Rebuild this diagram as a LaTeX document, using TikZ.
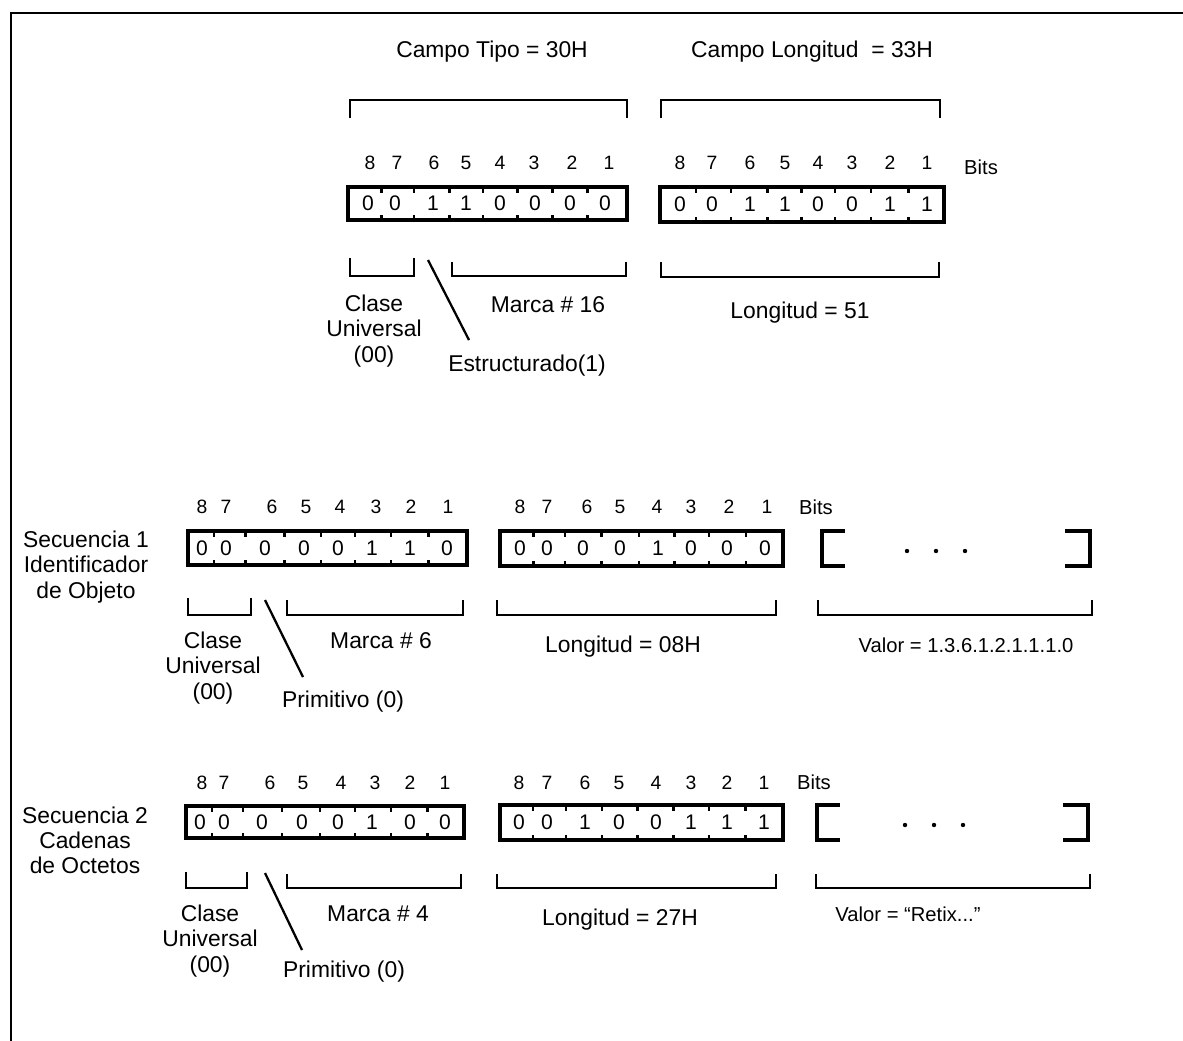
\documentclass[tikz,border=0pt]{standalone}
\usepackage{fontspec}
\setmainfont{Liberation Sans}
\begin{document}
\begin{tikzpicture}[x=0.02cm,y=-0.02cm]
\tikzset{
  lab/.style={font=\fontsize{13}{14.3}\selectfont, inner sep=0pt, align=center},
  small/.style={font=\fontsize{11.5}{13}\selectfont, inner sep=0pt},
  bitn/.style={font=\fontsize{11}{13}\selectfont, inner sep=0pt},
  dig/.style={font=\fontsize{12}{14}\selectfont, inner sep=0pt},
  obox/.style={draw, line width=2.3pt, inner sep=0pt, outer sep=0pt},
  tick/.style={line width=1.3pt},
  brk/.style={line width=1.4pt, line cap=butt},
  vbrk/.style={line width=2.2pt},
  slash/.style={line width=1.3pt},
  frame/.style={line width=1.2pt}
}
\newcommand\octetbox[6]{%
  \pgfmathsetmacro\obcx{(#2+#3)/2}%
  \pgfmathsetmacro\obcy{(#4+#5)/2}%
  \pgfmathsetmacro\obw{(#3-#2)*0.02}%
  \pgfmathsetmacro\obh{(#5-#4)*0.02}%
  \node[obox, minimum width=\obw cm, minimum height=\obh cm] (#1) at (\obcx,\obcy) {};
  \foreach \x/\d [count=\i, remember=\x as \lastx (initially 0)] in {#6} {
    \node[dig] (#1-\i) at (\x,\obcy) {\d};
    \ifnum\i>1
      \pgfmathsetmacro\tk{(\x+\lastx)/2}
      \draw[tick] (\tk,#4+1) -- ++(0,4.5);
      \draw[tick] (\tk,#5-1) -- ++(0,-4.5);
    \fi
  }
}
\newcommand\bitnums[3]{% name, y, list of x
  \foreach \x [count=\i] in {#3} {
    \pgfmathtruncatemacro\bn{9-\i}
    \node[bitn] (#1-\i) at (\x,#2) {\bn};
  }
}
% bounding box and frame
\useasboundingbox (0,0) rectangle (1183,1041);
\coordinate (fA) at (11,1041);
\coordinate (fB) at (11,13);
\coordinate (fC) at (1183,13);
\draw[frame] (fA) -- (fB) -- (fC);

% ===== top section =====
\node[lab] (t1) at (492,52) {Campo Tipo = 30H};
\node[lab] (t2) at (812,52) {Campo Longitud \ = 33H};
\draw[brk] (350,118) -- (350,100) -- (627,100) -- (627,118);
\draw[brk] (661,118) -- (661,100) -- (940,100) -- (940,118);
\bitnums{ta}{163}{370,397,434,466,500,534,572,609}
\bitnums{tb}{163}{680,712,750,785,818,852,890,927}
\node[small] (tbits) at (981,167) {Bits};
\octetbox{tA}{348}{627}{187}{220}{368/0,395/0,433/1,466/1,500/0,535/0,570/0,605/0}
\octetbox{tB}{660}{944}{187}{222}{680/0,712/0,750/1,785/1,818/0,852/0,890/1,927/1}
\draw[brk] (350,258) -- (350,276) -- (414,276) -- (414,258);
\draw[brk] (452,262) -- (452,276) -- (626,276) -- (626,262);
\draw[brk] (661,262) -- (661,277) -- (939,277) -- (939,262);
\coordinate (ts1) at (428,260);
\coordinate (ts2) at (469,340);
\draw[slash] (ts1) -- (ts2);
\node[lab] (tcl) at (374,331) {Clase\\Universal\\(00)};
\node[lab] (tmar) at (548,305) {Marca \# 16};
\node[lab] (test) at (527,366) {Estructurado(1)};
\node[lab] (tlon) at (800,313) {Longitud = 51};

% ===== Secuencia 1 =====
\node[lab] (s1) at (86,567) {Secuencia 1\\Identificador\\de Objeto};
\bitnums{ma}{507}{202,226,272,306,340,376,411,448}
\bitnums{mb}{507}{520,547,587,620,657,691,729,767}
\node[small] (mbits) at (816,507) {Bits};
\octetbox{mA}{188}{467}{531}{565}{202/0,226/0,265/0,304/0,338/0,372/1,410/1,447/0}
\octetbox{mB}{500}{783}{531}{566}{520/0,547/0,583/0,620/0,658/1,691/0,727/0,765/0}
\draw[vbrk] (845,531) -- (822,531) -- (822,566) -- (845,566);
\draw[vbrk] (1065,531) -- (1090,531) -- (1090,566) -- (1065,566);
\foreach \x [count=\i] in {907,936,965} \fill (\x,551) circle (2.2) coordinate (md\i);
\draw[brk] (188,598) -- (188,615) -- (251,615) -- (251,598);
\draw[brk] (287,600) -- (287,615) -- (463,615) -- (463,600);
\draw[brk] (497,600) -- (497,615) -- (776,615) -- (776,600);
\draw[brk] (818,600) -- (818,615) -- (1092,615) -- (1092,600);
\coordinate (ms1) at (265,600);
\coordinate (ms2) at (303,677);
\draw[slash] (ms1) -- (ms2);
\node[lab] (mcl) at (213,668) {Clase\\Universal\\(00)};
\node[lab] (mmar) at (381,641) {Marca \# 6};
\node[lab] (mpri) at (343,702) {Primitivo (0)};
\node[lab] (mlon) at (623,647) {Longitud = 08H};
\node[small] (mval) at (966,645) {Valor = 1.3.6.1.2.1.1.1.0};

% ===== Secuencia 2 =====
\node[lab] (s2) at (85,840) {Secuencia 2\\Cadenas\\de Octetos};
\bitnums{ba}{783}{202,224,270,303,341,375,410,445}
\bitnums{bb}{783}{519,547,585,619,656,691,727,764}
\node[small] (bbits) at (814,782) {Bits};
\octetbox{bA}{186}{464}{806}{838}{200/0,224/0,262/0,302/0,338/0,372/1,410/0,445/0}
\octetbox{bB}{500}{783}{805}{840}{519/0,547/0,585/1,619/0,656/0,691/1,727/1,764/1}
\draw[vbrk] (840,805) -- (817,805) -- (817,840) -- (840,840);
\draw[vbrk] (1063,805) -- (1088,805) -- (1088,840) -- (1063,840);
\foreach \x [count=\i] in {905,934,963} \fill (\x,825) circle (2.2) coordinate (bd\i);
\draw[brk] (186,872) -- (186,888) -- (247,888) -- (247,872);
\draw[brk] (287,874) -- (287,888) -- (461,888) -- (461,874);
\draw[brk] (497,874) -- (497,888) -- (776,888) -- (776,874);
\draw[brk] (816,874) -- (816,888) -- (1090,888) -- (1090,874);
\coordinate (bs1) at (265,873);
\coordinate (bs2) at (302,950);
\draw[slash] (bs1) -- (bs2);
\node[lab] (bcl) at (210,941) {Clase\\Universal\\(00)};
\node[lab] (bmar) at (378,914) {Marca \# 4};
\node[lab] (bpri) at (344,972) {Primitivo (0)};
\node[lab] (blon) at (620,920) {Longitud = 27H};
\node[small] (bval) at (908,914) {Valor = ``Retix...''};
\end{tikzpicture}
\end{document}
